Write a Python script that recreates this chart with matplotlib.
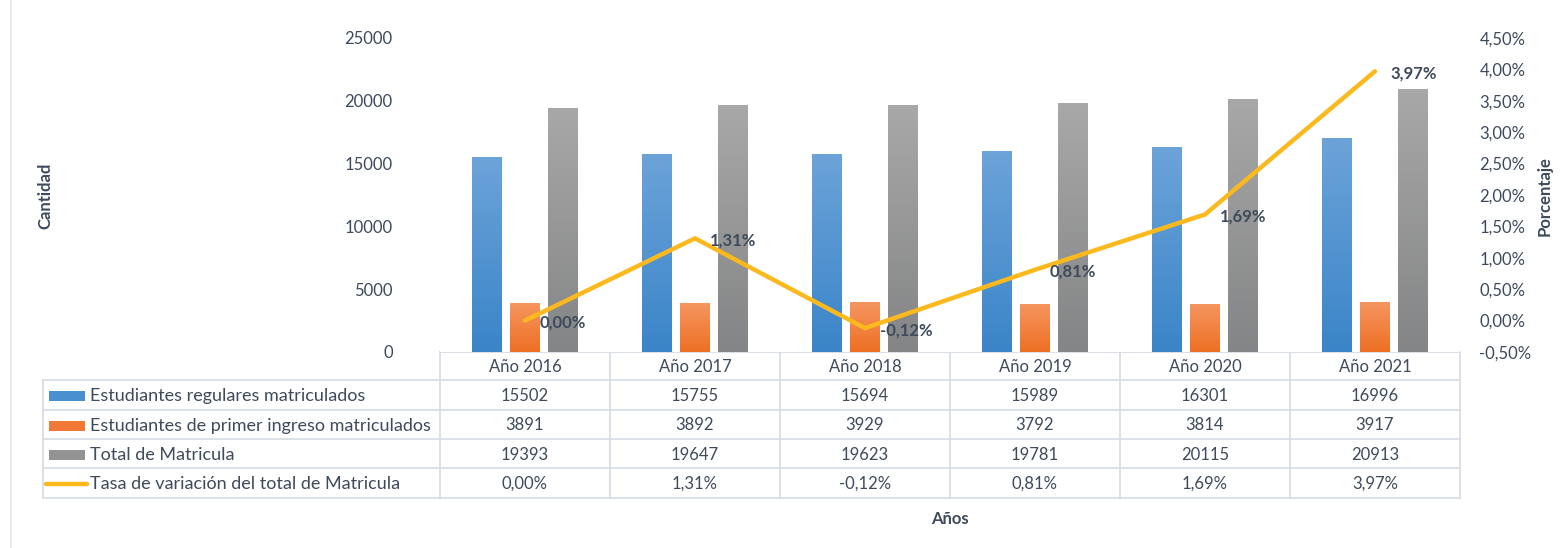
import numpy as np
import matplotlib.pyplot as plt
from matplotlib.colors import LinearSegmentedColormap

# datos
years = ["Año 2016", "Año 2017", "Año 2018", "Año 2019", "Año 2020", "Año 2021"]
regulares = [15502, 15755, 15694, 15989, 16301, 16996]
primer_ingreso = [3891, 3892, 3929, 3792, 3814, 3917]
total = [19393, 19647, 19623, 19781, 20115, 20913]
tasa = [0.00, 1.31, -0.12, 0.81, 1.69, 3.97]

series_names = ["Estudiantes regulares matriculados",
                "Estudiantes de primer ingreso matriculados",
                "Total de Matricula",
                "Tasa de variación del total de Matricula"]

left_ticks = [0, 5000, 10000, 15000, 20000, 25000]
right_ticks = [-0.5, 0, 0.5, 1.0, 1.5, 2.0, 2.5, 3.0, 3.5, 4.0, 4.5]

text_col = "#3E4A5B"
grid_col = "#D5DBE3"
line_col = "#FBB91E"
grads = [("#6CA3D9", "#3A85C8"), ("#F5955F", "#EE7024"), ("#A8A8A8", "#848586")]
key_cols = ["#4A8FD0", "#F07A35", "#939393"]

plt.rcParams['font.family'] = ['Lato', 'DejaVu Sans']

W, H = 1564, 548
fig = plt.figure(figsize=(W / 100, H / 100), dpi=100)

# posicion del area de trazado en pixeles
px_l, px_r, px_t, px_b = 440, 1460, 38, 352
ax = fig.add_axes([px_l / W, 1 - px_b / H, (px_r - px_l) / W, (px_b - px_t) / H])
ax2 = ax.twinx()

x = np.arange(len(years))
bw = 0.175
offs = [-0.224, 0, 0.224]
for vals, off, (c_top, c_bot) in zip([regulares, primer_ingreso, total], offs, grads):
    cmap = LinearSegmentedColormap.from_list("g", [c_bot, c_top])
    bars = ax.bar(x + off, vals, width=bw, color="none", edgecolor="none")
    for b in bars:
        g = np.linspace(1, 0, 100).reshape(-1, 1)
        ax.imshow(g, extent=[b.get_x(), b.get_x() + b.get_width(), 0, b.get_height()],
                  cmap=cmap, vmin=0, vmax=1, aspect="auto", zorder=2)

ax.set_xlim(-0.5, len(years) - 0.5)
ax.set_ylim(0, 25000)
ax.set_yticks(left_ticks)
ax.set_yticklabels([str(v) for v in left_ticks])
ax.set_xticks([])
ax.tick_params(axis="y", length=0, pad=34, labelsize=12, labelcolor=text_col)
for s in ax.spines.values():
    s.set_visible(False)

ax2.plot(x, tasa, color=line_col, lw=3.2, solid_capstyle="round", zorder=3)
ax2.set_ylim(-0.5, 4.5)
ax2.set_yticks(right_ticks)
ax2.set_yticklabels([f"{v:.2f}%".replace(".", ",") for v in right_ticks])
ax2.tick_params(axis="y", length=0, pad=14, labelsize=12, labelcolor=text_col)
for s in ax2.spines.values():
    s.set_visible(False)
for xi, v in zip(x, tasa):
    ax2.annotate(f"{v:.2f}%".replace(".", ","), (xi, v), xytext=(15, -2),
                 textcoords="offset pixels", ha="left", va="center",
                 fontsize=12, fontweight="bold", color=text_col)

# tabla de datos
tb = fig.add_axes([0, 0, 1, 1], zorder=-1)
tb.set_xlim(0, W)
tb.set_ylim(H, 0)
tb.axis("off")

tbl_l = 43
row_y = [352, 380, 410, 439, 468, 498]
col_w = (px_r - px_l) / len(years)
col_x = [px_l + i * col_w for i in range(len(years) + 1)]

# lineas
tb.plot([px_l, px_r], [row_y[0], row_y[0]], color=grid_col, lw=1.2)
for yy in row_y[1:]:
    tb.plot([tbl_l, px_r], [yy, yy], color=grid_col, lw=1.2)
tb.plot([tbl_l, tbl_l], [row_y[1], row_y[-1]], color=grid_col, lw=1.2)
for xx in col_x:
    tb.plot([xx, xx], [row_y[0], row_y[-1]], color=grid_col, lw=1.2)
tb.plot([11, 11], [0, H], color="#E3E7EC", lw=1.2)

for i, yr in enumerate(years):
    tb.text(col_x[i] + col_w / 2, (row_y[0] + row_y[1]) / 2 + 1, yr,
            ha="center", va="center", fontsize=12, color=text_col)

rows = [[str(v) for v in regulares],
        [str(v) for v in primer_ingreso],
        [str(v) for v in total],
        [f"{v:.2f}%".replace(".", ",") for v in tasa]]
for r, (name, vals) in enumerate(zip(series_names, rows)):
    yc = (row_y[r + 1] + row_y[r + 2]) / 2 + 1
    if r < 3:
        tb.add_patch(plt.Rectangle((49, yc - 5), 36, 10, color=key_cols[r], lw=0))
    else:
        tb.plot([46, 87], [yc, yc], color=line_col, lw=3.2, solid_capstyle="round")
    tb.text(90, yc, name, ha="left", va="center", fontsize=13, color=text_col)
    for i, s in enumerate(vals):
        tb.text(col_x[i] + col_w / 2, yc, s, ha="center", va="center",
                fontsize=12, color=text_col)

# titulos de ejes
fig.text(45 / W, 1 - 196 / H, "Cantidad", rotation=90, ha="center", va="center",
         fontsize=12, fontweight="bold", color=text_col)
fig.text(1545 / W, 1 - 196 / H, "Porcentaje", rotation=90, ha="center", va="center",
         fontsize=12, fontweight="bold", color=text_col)
fig.text(950 / W, 1 - 519 / H, "Años", ha="center", va="center",
         fontsize=12, fontweight="bold", color=text_col)

fig.savefig("out.png", dpi=100, facecolor="white")
